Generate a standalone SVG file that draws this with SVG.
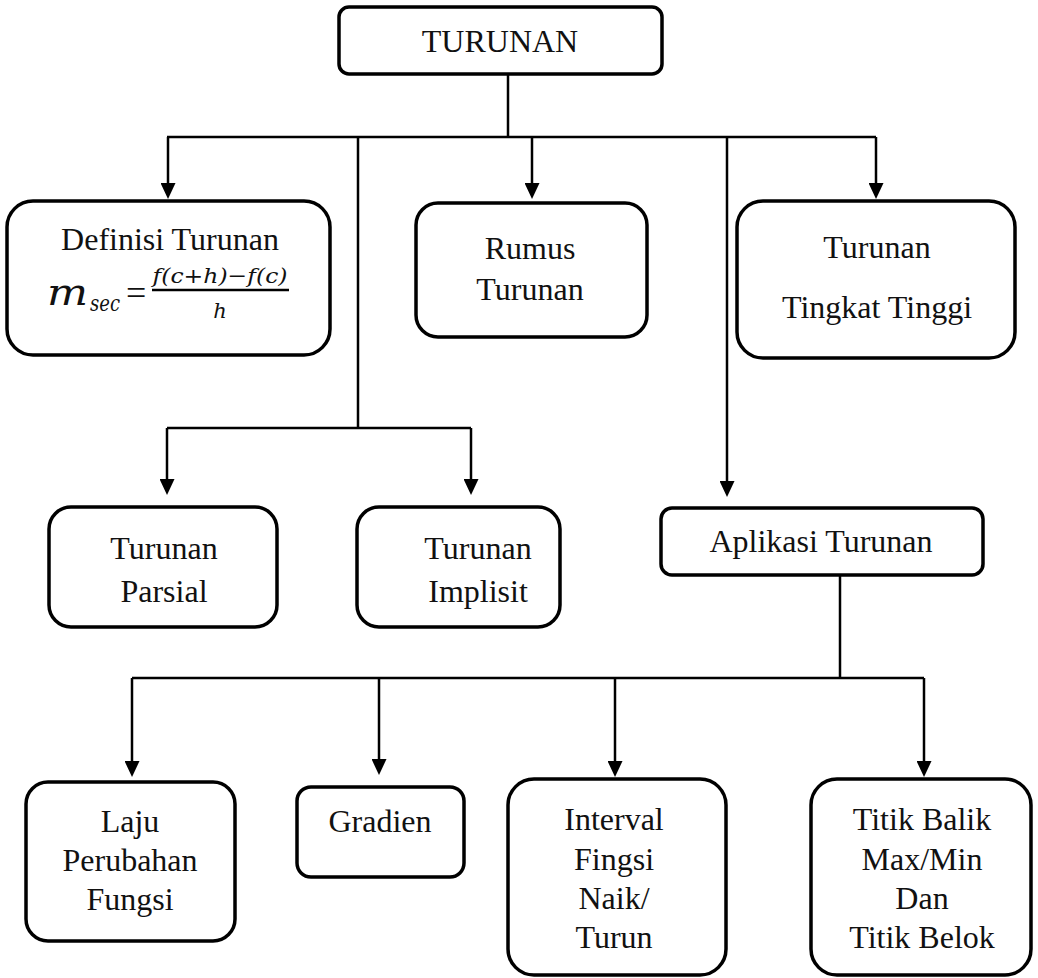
<svg xmlns="http://www.w3.org/2000/svg" width="1038" height="978" viewBox="0 0 1038 978">
<defs>
<marker id="ah" viewBox="0 0 16 15" markerWidth="16" markerHeight="15" refX="0" refY="7.5" orient="auto" markerUnits="userSpaceOnUse">
<path d="M0,0 L16,7.5 L0,15 z" fill="#000"/>
</marker>
<style>
.box{fill:#fff;stroke:#000;stroke-width:3.5}
.t{font-family:"Liberation Serif","Times New Roman",serif;font-size:32px;fill:#111;text-anchor:middle}
.m{font-family:"DejaVu Serif","Liberation Serif",serif;font-style:italic;fill:#111}
.c{fill:none;stroke:#000;stroke-width:2.5}
.a{fill:none;stroke:#000;stroke-width:2.5;marker-end:url(#ah)}
</style>
</defs>
<rect width="1038" height="978" fill="#fff"/>
<g id="connectors">
<path class="c" d="M508,74 V137"/>
<path class="c" d="M167,137 H876"/>
<path class="a" d="M168,137 V183"/>
<path class="a" d="M532,137 V183"/>
<path class="a" d="M876,137 V183"/>
<path class="c" d="M358,137 V428"/>
<path class="c" d="M167,428 H471"/>
<path class="a" d="M167,428 V479"/>
<path class="a" d="M471,428 V479"/>
<path class="a" d="M727,137 V481"/>
<path class="c" d="M840,575 V678"/>
<path class="c" d="M132,678 H924"/>
<path class="a" d="M132,678 V761"/>
<path class="a" d="M379,678 V759"/>
<path class="a" d="M615,678 V761"/>
<path class="a" d="M924,678 V761"/>
</g>
<g id="turunan">
<rect class="box" x="339" y="7" width="323" height="67" rx="10"/>
<text class="t" x="500" y="52">TURUNAN</text>
</g>
<g id="definisi">
<rect class="box" x="7" y="201" width="323" height="154" rx="26"/>
<text class="t" x="170" y="250">Definisi Turunan</text>
<text class="m" x="47" y="305" font-size="38" textLength="41" lengthAdjust="spacingAndGlyphs">m</text>
<text class="m" x="90" y="311" font-size="22" textLength="30" lengthAdjust="spacingAndGlyphs">sec</text>
<text x="126" y="305" font-family="Liberation Serif, serif" font-size="36" fill="#111">=</text>
<line x1="152" y1="290" x2="289" y2="290" stroke="#000" stroke-width="2.5"/>
<text class="m" x="220" y="283" font-size="21" text-anchor="middle" textLength="135" lengthAdjust="spacingAndGlyphs">f(c+h)−f(c)</text>
<text class="m" x="220" y="318" font-size="21" text-anchor="middle">h</text>
</g>
<g id="rumus">
<rect class="box" x="416" y="203" width="231" height="134" rx="22"/>
<text class="t" x="530" y="259">Rumus</text>
<text class="t" x="530" y="300">Turunan</text>
</g>
<g id="tingkat">
<rect class="box" x="737" y="201" width="278" height="157" rx="26"/>
<text class="t" x="877" y="258">Turunan</text>
<text class="t" x="877" y="318">Tingkat Tinggi</text>
</g>
<g id="parsial">
<rect class="box" x="49" y="507" width="228" height="120" rx="22"/>
<text class="t" x="164" y="559">Turunan</text>
<text class="t" x="164" y="602">Parsial</text>
</g>
<g id="implisit">
<rect class="box" x="357" y="507" width="203" height="120" rx="22"/>
<text class="t" x="478" y="559">Turunan</text>
<text class="t" x="478" y="602">Implisit</text>
</g>
<g id="aplikasi">
<rect class="box" x="661" y="508" width="322" height="67" rx="11"/>
<text class="t" x="821" y="552">Aplikasi Turunan</text>
</g>
<g id="laju">
<rect class="box" x="26" y="782" width="209" height="159" rx="22"/>
<text class="t" x="130" y="832">Laju</text>
<text class="t" x="130" y="871">Perubahan</text>
<text class="t" x="130" y="910">Fungsi</text>
</g>
<g id="gradien">
<rect class="box" x="297" y="787" width="167" height="90" rx="14"/>
<text class="t" x="380" y="832">Gradien</text>
</g>
<g id="interval">
<rect class="box" x="508" y="779" width="218" height="196" rx="26"/>
<text class="t" x="614" y="830">Interval</text>
<text class="t" x="614" y="870">Fingsi</text>
<text class="t" x="614" y="909">Naik/</text>
<text class="t" x="614" y="948">Turun</text>
</g>
<g id="titik">
<rect class="box" x="811" y="779" width="220" height="196" rx="26"/>
<text class="t" x="922" y="830">Titik Balik</text>
<text class="t" x="922" y="870">Max/Min</text>
<text class="t" x="922" y="909">Dan</text>
<text class="t" x="922" y="948">Titik Belok</text>
</g>
</svg>
